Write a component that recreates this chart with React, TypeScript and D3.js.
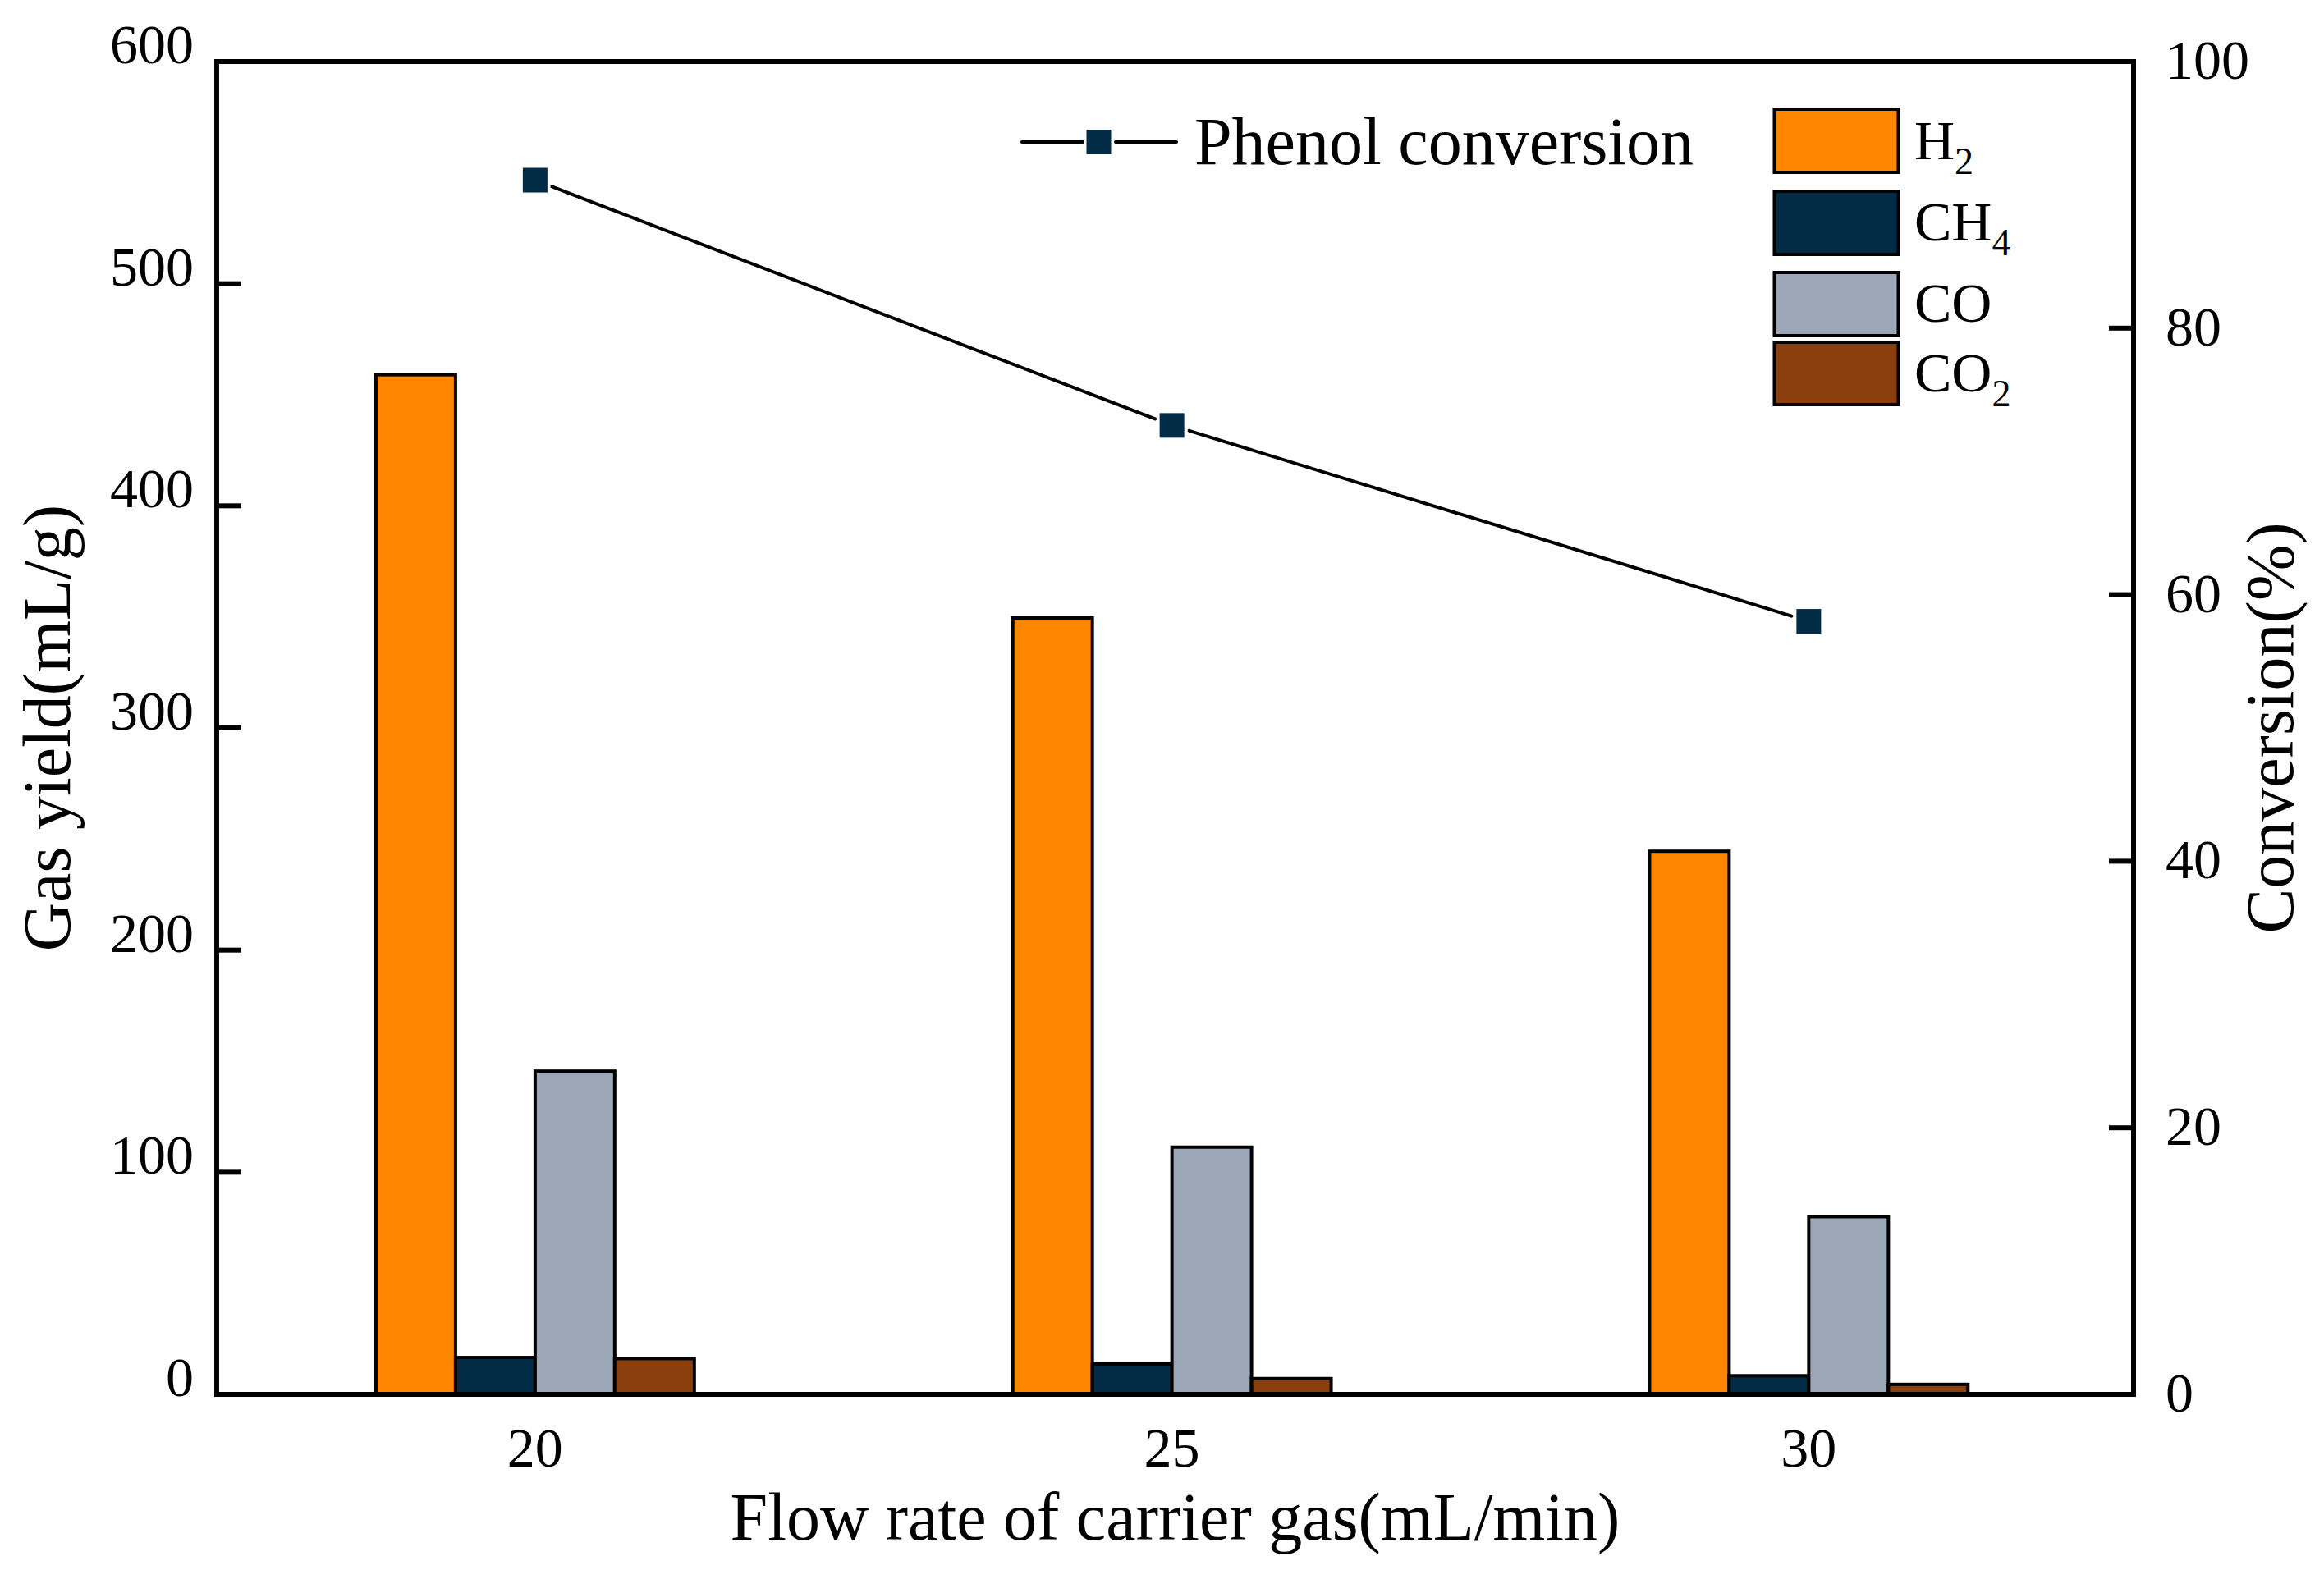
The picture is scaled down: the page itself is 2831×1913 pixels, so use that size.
import React from "react";
import * as d3 from "d3";

const categories = [20, 25, 30];
const seriesNames = ["H2", "CH4", "CO", "CO2"];
const h2Values = [459, 349.5, 244.5];
const ch4Values = [16.6, 13.7, 8.4];
const coValues = [145.5, 111.3, 80];
const co2Values = [16.1, 7.1, 4.5];
const conversionValues = [91.1, 72.7, 58.0];
const leftTicks = [0, 100, 200, 300, 400, 500, 600];
const rightTicks = [0, 20, 40, 60, 80, 100];
const colors = ["#FF8600", "#022B45", "#9BA7B6", "#8A3F0C"];
const legendLabels: [string, string][] = [
  ["H", "2"],
  ["CH", "4"],
  ["CO", ""],
  ["CO", "2"],
];

const W = 2831;
const H = 1913;
const FONT = "'Liberation Serif', 'Times New Roman', serif";

export default function App() {
  const left = 264, right = 2599, top = 75, bottom = 1699;
  const x = d3.scaleLinear().domain([17.5, 32.55]).range([left, right]);
  const yL = d3.scaleLinear().domain([0, 600]).range([bottom, top]);
  const yR = d3.scaleLinear().domain([0, 100]).range([bottom, top]);
  const allSeries = [h2Values, ch4Values, coValues, co2Values];
  const barW = 0.625;

  const pts = categories.map((c, i) => [x(c), yR(conversionValues[i])] as [number, number]);
  const gap = 22;
  const segs: [number, number, number, number][] = [];
  for (let i = 0; i < pts.length - 1; i++) {
    const [x1, y1] = pts[i];
    const [x2, y2] = pts[i + 1];
    const len = Math.hypot(x2 - x1, y2 - y1);
    const ux = (x2 - x1) / len, uy = (y2 - y1) / len;
    segs.push([x1 + ux * gap, y1 + uy * gap, x2 - ux * gap, y2 - uy * gap]);
  }
  const ms = 30;

  const legendBoxes = [
    [133, 210, 194],
    [233, 310, 293],
    [332, 409, 392],
    [417, 493, 477],
  ];

  return (
    <svg width={W} height={H} style={{ position: "absolute", left: 0, top: 0, background: "#fff" }} fontFamily={FONT}>
      <rect x={0} y={0} width={W} height={H} fill="#fff" />
      {/* bars */}
      {allSeries.map((vals, si) =>
        categories.map((c, ci) => {
          const x0 = x(c - 2 * barW + si * barW);
          const x1 = x(c - 2 * barW + (si + 1) * barW);
          const y0 = yL(vals[ci]);
          return (
            <rect key={`${si}-${ci}`} x={x0} y={y0} width={x1 - x0} height={bottom - y0}
              fill={colors[si]} stroke="#000" strokeWidth={4} />
          );
        })
      )}
      {/* conversion line */}
      {segs.map((s, i) => (
        <line key={i} x1={s[0]} y1={s[1]} x2={s[2]} y2={s[3]} stroke="#000" strokeWidth={4} strokeLinecap="round" />
      ))}
      {pts.map((p, i) => (
        <rect key={i} x={p[0] - ms / 2} y={p[1] - ms / 2} width={ms} height={ms} fill="#022B45" />
      ))}
      {/* frame */}
      <rect x={left} y={top} width={right - left} height={bottom - top} fill="none" stroke="#000" strokeWidth={6} />
      {/* left ticks */}
      {leftTicks.map((t) => (
        <g key={t}>
          <line x1={left} x2={left + 30} y1={yL(t)} y2={yL(t)} stroke="#000" strokeWidth={6} />
          <text x={236} y={yL(t) + 2} textAnchor="end" fontSize={68}>{t}</text>
        </g>
      ))}
      {/* right ticks */}
      {rightTicks.map((t) => (
        <g key={t}>
          <line x1={right - 30} x2={right} y1={yR(t)} y2={yR(t)} stroke="#000" strokeWidth={6} />
          <text x={2638} y={yR(t) + 21} textAnchor="start" fontSize={68}>{t}</text>
        </g>
      ))}
      {/* x tick labels */}
      {categories.map((c) => (
        <text key={c} x={x(c)} y={1787} textAnchor="middle" fontSize={68}>{c}</text>
      ))}
      {/* axis titles */}
      <text x={(left + right) / 2} y={1876} textAnchor="middle" fontSize={82}>Flow rate of carrier gas(mL/min)</text>
      <text transform={`translate(85, ${(top + bottom) / 2}) rotate(-90)`} textAnchor="middle" fontSize={82}>Gas yield(mL/g)</text>
      <text transform={`translate(2793, ${(top + bottom) / 2}) rotate(-90)`} textAnchor="middle" fontSize={82}>Conversion(%)</text>
      {/* line legend */}
      <line x1={1245} x2={1319} y1={173} y2={173} stroke="#000" strokeWidth={4} strokeLinecap="round" />
      <line x1={1359} x2={1433} y1={173} y2={173} stroke="#000" strokeWidth={4} strokeLinecap="round" />
      <rect x={1338.5 - ms / 2} y={173 - ms / 2} width={ms} height={ms} fill="#022B45" />
      <text x={1455} y={200} fontSize={82}>Phenol conversion</text>
      {/* bar legend */}
      {seriesNames.map((n, i) => (
        <g key={n}>
          <rect x={2161.5} y={legendBoxes[i][0]} width={151} height={legendBoxes[i][1] - legendBoxes[i][0]}
            fill={colors[i]} stroke="#000" strokeWidth={4} />
          <text x={2332} y={legendBoxes[i][2]} fontSize={68}>
            {legendLabels[i][0]}
            {legendLabels[i][1] ? <tspan fontSize={46} dy={18}>{legendLabels[i][1]}</tspan> : null}
          </text>
        </g>
      ))}
    </svg>
  );
}
